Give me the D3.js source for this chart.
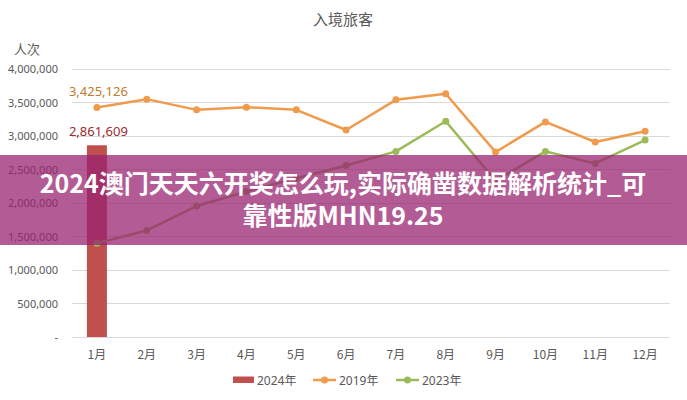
<!DOCTYPE html>
<html><head><meta charset="utf-8">
<script src="https://cdn.jsdelivr.net/npm/d3@7"></script>
<style>
html,body{margin:0;padding:0;background:#fff;}
svg{display:block;}
text{font-family:"Noto Sans","Noto Sans CJK SC",sans-serif;}
</style></head>
<body><svg id="c" width="687" height="400"></svg>
<script>
const months = ["1月","2月","3月","4月","5月","6月","7月","8月","9月","10月","11月","12月"];
const values2024 = [2861609];
const values2019 = [3425126,3550000,3390000,3430000,3390000,3090000,3540000,3630000,2760000,3210000,2910000,3070000];
const values2023 = [1400000,1590000,1955000,2170000,2370000,2560000,2770000,3220000,2330000,2770000,2590000,2940000];
const yTicks = [0,500000,1000000,1500000,2000000,2500000,3000000,3500000,4000000];
const seriesNames = ["2024年","2019年","2023年"];
const chartTitle = "入境旅客";
const yUnit = "人次";
const bannerLines = ["2024澳门天天六开奖怎么玩,实际确凿数据解析统计_可","靠性版MHN19.25"];

const svg = d3.select("#c");
const C = {bar:"#c0504d", o:"#f09a4c", g:"#9bbb59", txt:"#595959", grid:"#d9d9d9"};
const x = d3.scaleBand().domain(months).range([72,670]).padding(0);
const y = d3.scaleLinear().domain([0,4000000]).range([337,69]);
const fmt = d3.format(",");

svg.append("text").attr("x",343).attr("y",25).attr("text-anchor","middle")
  .attr("font-size",15).attr("fill",C.txt).style("font-family","'Noto Sans CJK SC'").text(chartTitle);
svg.append("text").attr("x",14).attr("y",54).attr("font-size",13).attr("fill",C.txt)
  .style("font-family","'Noto Sans CJK SC'").text(yUnit);

// grid
svg.append("g").selectAll("line").data(yTicks).join("line")
  .attr("x1",72).attr("x2",670).attr("y1",d=>y(d)).attr("y2",d=>y(d))
  .attr("stroke",C.grid).attr("stroke-width",1).attr("shape-rendering","crispEdges");

// y axis labels
const ya = svg.append("g").attr("transform","translate(58,0)")
  .call(d3.axisLeft(y).tickValues(yTicks).tickSize(0).tickFormat(d=>d===0?"-":fmt(d)));
ya.select(".domain").remove();
ya.selectAll("text").attr("font-size",11).attr("fill",C.txt).attr("x",0)
  .style("font-family","'Noto Sans'");

// x axis labels
const xa = svg.append("g").attr("transform","translate(0,345)")
  .call(d3.axisBottom(x).tickSize(0));
xa.select(".domain").remove();
xa.selectAll("text").attr("font-size",12).attr("fill",C.txt).attr("dy","0.9em")
  .style("font-family","'Noto Sans CJK SC'");

// bar
const bw = 20;
svg.append("g").selectAll("rect").data(values2024).join("rect")
  .attr("x",(d,i)=>x(months[i])+x.bandwidth()/2-bw/2).attr("width",bw)
  .attr("y",d=>y(d)).attr("height",d=>y(0)-y(d)).attr("fill",C.bar);

function drawLine(vals,col){
  const line = d3.line().x((d,i)=>x(months[i])+x.bandwidth()/2).y(d=>y(d));
  svg.append("path").datum(vals).attr("d",line).attr("fill","none")
    .attr("stroke",col).attr("stroke-width",2.5).attr("stroke-linejoin","round");
  svg.append("g").selectAll("circle").data(vals).join("circle")
    .attr("cx",(d,i)=>x(months[i])+x.bandwidth()/2).attr("cy",d=>y(d)).attr("r",3.5).attr("fill",col);
}
drawLine(values2023,C.g);
drawLine(values2019,C.o);

// data labels
const cx0 = x(months[0])+x.bandwidth()/2;
svg.append("text").attr("x",cx0+1.5).attr("y",y(values2019[0])-12).attr("text-anchor","middle")
  .attr("font-size",13).attr("fill","#c07b2c").style("font-family","'Noto Sans'").text(fmt(values2019[0]));
svg.append("text").attr("x",cx0+1.5).attr("y",y(values2024[0])-9).attr("text-anchor","middle")
  .attr("font-size",13).attr("fill","#9c2a2e").style("font-family","'Noto Sans'").text(fmt(values2024[0]));

// legend
const lg = svg.append("g").style("font-family","'Noto Sans CJK SC'");
lg.append("rect").attr("x",233).attr("y",376.5).attr("width",21).attr("height",6.5).attr("fill",C.bar);
lg.append("text").attr("x",257).attr("y",384.5).attr("font-size",12).attr("fill",C.txt).text(seriesNames[0]);
[[313,C.o,seriesNames[1],339],[396,C.g,seriesNames[2],422]].forEach(([lx,col,name,tx])=>{
  lg.append("line").attr("x1",lx).attr("x2",lx+23).attr("y1",380).attr("y2",380).attr("stroke",col).attr("stroke-width",2.5);
  lg.append("circle").attr("cx",lx+11.5).attr("cy",380).attr("r",3.5).attr("fill",col);
  lg.append("text").attr("x",tx).attr("y",384.5).attr("font-size",12).attr("fill",C.txt).text(name);
});

// overlay banner
svg.append("rect").attr("x",0).attr("y",155).attr("width",687).attr("height",90)
  .attr("fill","rgb(152,34,112)").attr("fill-opacity",0.74);
svg.append("g").selectAll("text").data(bannerLines).join("text")
  .attr("x",343).attr("y",(d,i)=>193+i*32).attr("text-anchor","middle")
  .attr("font-size",25).attr("font-weight",700).attr("fill","#fff")
  .style("font-family","'Noto Sans CJK SC'").text(d=>d);
</script></body></html>
